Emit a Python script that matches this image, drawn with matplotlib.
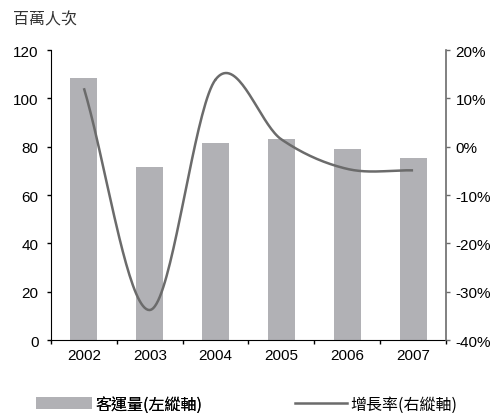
import numpy as np
import matplotlib
matplotlib.use("Agg")
import matplotlib.pyplot as plt
from matplotlib.patches import Patch
from matplotlib.lines import Line2D

plt.rcParams['font.family'] = ['Liberation Sans', 'Noto Sans CJK TC', 'DejaVu Sans']

years = ['2002', '2003', '2004', '2005', '2006', '2007']
passengers = [108.4, 71.6, 81.5, 83.2, 79.0, 75.3]   # 百萬人次
growth = [12.1, -33.8, 13.9, 1.5, -4.6, -4.9]        # %

bar_color = '#b1b1b5'
line_color = '#6b6b6b'
cjk = ['Noto Sans CJK TC', 'DejaVu Sans']


def smooth(xs, ys, n=40):
    # Catmull-Rom spline through the data points (like a "smoothed line")
    xs = np.asarray(xs, float)
    ys = np.asarray(ys, float)
    px = np.concatenate([[2 * xs[0] - xs[1]], xs, [2 * xs[-1] - xs[-2]]])
    py = np.concatenate([[2 * ys[0] - ys[1]], ys, [2 * ys[-1] - ys[-2]]])
    out_x, out_y = [], []
    t = np.linspace(0, 1, n)
    for i in range(1, len(px) - 2):
        for p, out in ((px, out_x), (py, out_y)):
            p0, p1, p2, p3 = p[i - 1], p[i], p[i + 1], p[i + 2]
            out.extend(0.5 * (2 * p1 + (-p0 + p2) * t
                              + (2 * p0 - 5 * p1 + 4 * p2 - p3) * t ** 2
                              + (-p0 + 3 * p1 - 3 * p2 + p3) * t ** 3))
    return out_x, out_y


fig = plt.figure(figsize=(5, 4.14), dpi=100)
ax = fig.add_axes([0.102, 0.1763, 0.79, 0.7005])
x = np.arange(len(years))
ax.bar(x, passengers, width=0.41, color=bar_color, zorder=1)
ax.set_xlim(-0.5, len(years) - 0.5)
ax.set_ylim(0, 120)
ax.set_yticks(range(0, 121, 20))
ax.set_xticks(x)
ax.set_xticklabels(years)
ax.set_xticks(np.arange(-0.5, len(years), 1), minor=True)
ax.tick_params(axis='x', which='major', length=0, pad=6, labelsize=11)
ax.tick_params(axis='x', which='minor', length=3, width=1, direction='out')
ax.tick_params(axis='y', length=3, width=1, direction='out', pad=6, labelsize=11)
ax.spines['top'].set_visible(False)
ax.spines['right'].set_visible(False)

ax2 = ax.twinx()
sx, sy = smooth(x, growth)
ax2.plot(sx, sy, color=line_color, lw=1.8, solid_capstyle='butt')
ax2.set_ylim(-40, 20)
ax2.set_yticks(range(-40, 21, 10))
ax2.set_yticklabels([f'{v}%' for v in range(-40, 21, 10)])
ax2.tick_params(axis='y', length=3, width=1, direction='out', pad=4,
                labelsize=11, color=line_color)
ax2.spines['top'].set_visible(False)
ax2.spines['left'].set_visible(False)
ax2.spines['bottom'].set_visible(False)
ax2.spines['right'].set_color(line_color)
ax2.spines['right'].set_linewidth(1.2)

fig.text(0.026, 0.952, '百萬人次', fontsize=11.5, family=cjk, color='#333333',
         va='center', ha='left')

leg_font = {'family': cjk, 'size': 11.5}
leg1 = fig.legend([Patch(facecolor=bar_color, edgecolor='none')], ['客運量(左縱軸)'],
                  loc='center left', bbox_to_anchor=(0.072, 0.022), frameon=False,
                  handlelength=3.5, handleheight=0.8, handletextpad=0.25,
                  borderpad=0, borderaxespad=0, prop=leg_font)
leg2 = fig.legend([Line2D([0], [0], color=line_color, lw=1.8)], ['增長率(右縱軸)'],
                  loc='center left', bbox_to_anchor=(0.59, 0.022), frameon=False,
                  handlelength=3.25, handletextpad=0.2,
                  borderpad=0, borderaxespad=0, prop=leg_font)
fig.add_artist(leg1)

fig.savefig('out.png', dpi=100)
